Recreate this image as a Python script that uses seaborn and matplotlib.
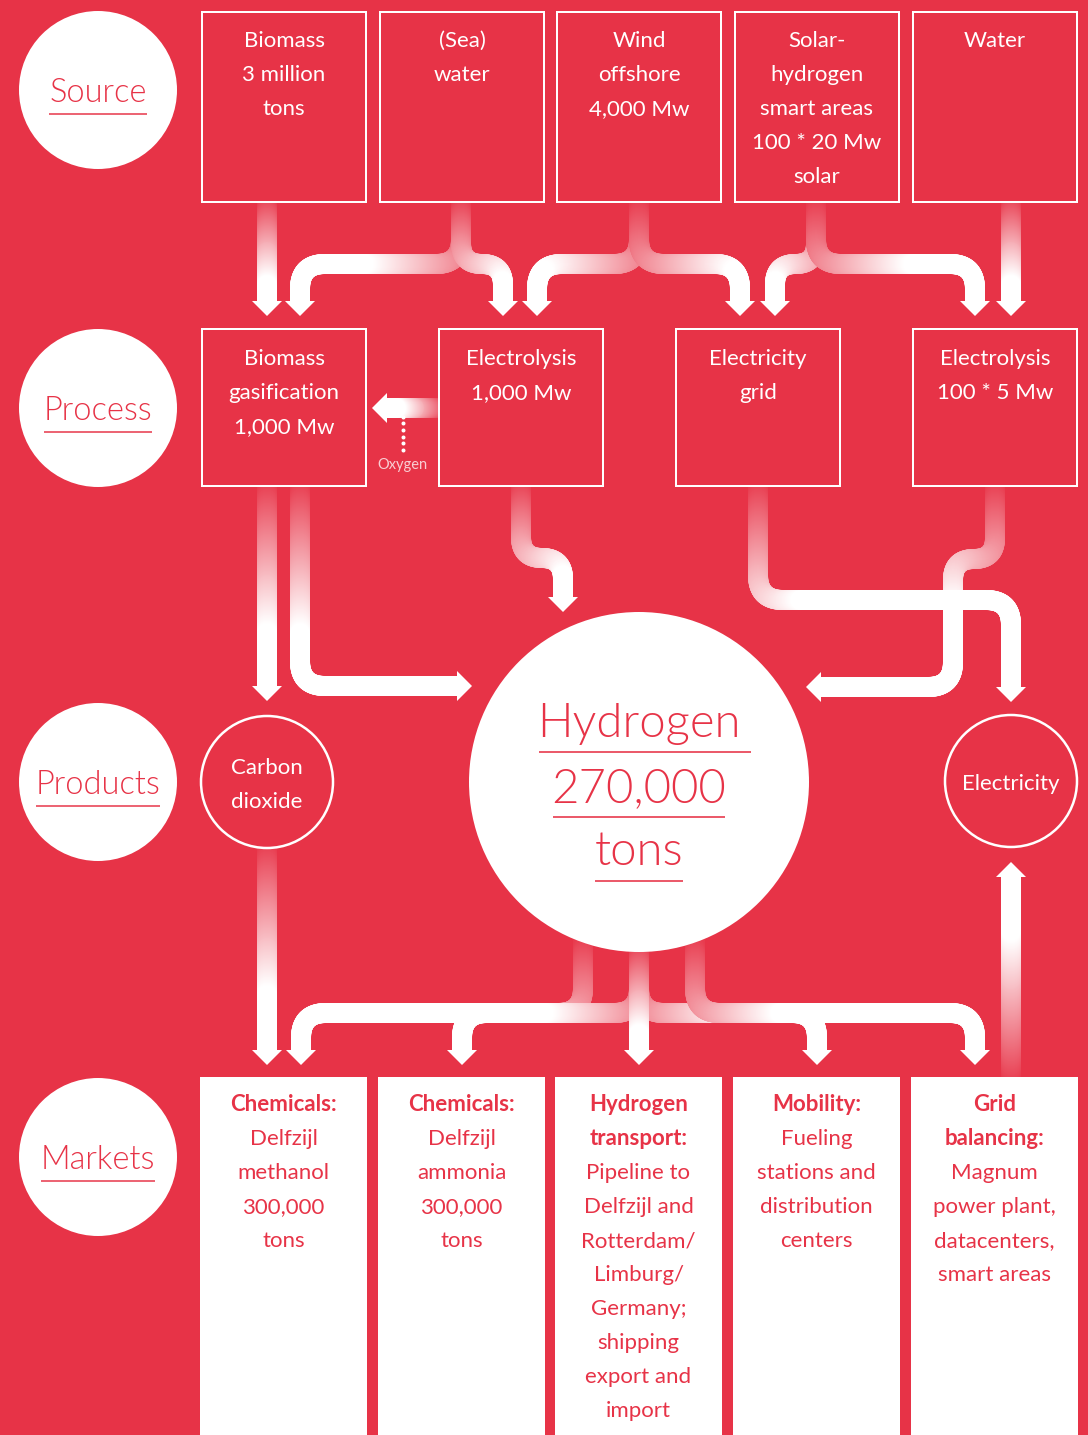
import numpy as np
import matplotlib
matplotlib.use("Agg")
import matplotlib.pyplot as plt
import seaborn as sns
from matplotlib.collections import LineCollection
from matplotlib.patches import Rectangle, Circle, Polygon
from matplotlib.colors import to_rgb

sns.set_theme(style="white")
plt.rcParams['font.family'] = ['Lato', 'DejaVu Sans']

# ---------------- data (texts) ----------------
stage_labels = ["Source", "Process", "Products", "Markets"]
source_labels = [["Biomass", "3 million", "tons"],
                 ["(Sea)", "water"],
                 ["Wind", "offshore", "4,000 Mw"],
                 ["Solar-", "hydrogen", "smart areas", "100 * 20 Mw", "solar"],
                 ["Water"]]
process_labels = [["Biomass", "gasification", "1,000 Mw"],
                  ["Electrolysis", "1,000 Mw"],
                  ["Electricity", "grid"],
                  ["Electrolysis", "100 * 5 Mw"]]
product_labels = [["Carbon", "dioxide"], ["Electricity"]]
hydrogen_lines = ["Hydrogen", "270,000", "tons"]
market_headers = [["Chemicals:"], ["Chemicals:"], ["Hydrogen", "transport:"],
                  ["Mobility:"], ["Grid", "balancing:"]]
market_bodies = [["Delfzijl", "methanol", "300,000", "tons"],
                 ["Delfzijl", "ammonia", "300,000", "tons"],
                 ["Pipeline to", "Delfzijl and", "Rotterdam/", "Limburg/", "Germany;",
                  "shipping", "export and", "import"],
                 ["Fueling", "stations and", "distribution", "centers"],
                 ["Magnum", "power plant,", "datacenters,", "smart areas"]]
oxygen_label = "Oxygen"

# ---------------- layout ----------------
RED = '#E73347'
WHITE = '#FFFFFF'
W, H = 1088, 1435
DPI = 100
PX = 72.0 / DPI  # points per pixel

stage_cx, stage_r = 98, 79
stage_cy = [90, 408, 782, 1157]
source_x = [202, 380, 557, 735, 913]
source_w, source_top, source_bot = 164, 12, 202
process_x = [202, 439, 676, 913]
process_w, process_top, process_bot = 164, 329, 486
market_x = [200, 378, 555, 733, 911]
market_w, market_top = 167, 1077
small_circles = [(267, 782, 66), (1011, 781, 66)]
h2_c = (639, 782, 170)

fig = plt.figure(figsize=(W / DPI, H / DPI), dpi=DPI)
fig.patch.set_facecolor(RED)
ax = fig.add_axes([0, 0, 1, 1])
ax.set_xlim(0, W)
ax.set_ylim(H, 0)
ax.set_facecolor(RED)
ax.axis('off')

bg = np.array(to_rgb(RED))
wh = np.array([1.0, 1.0, 1.0])


def rounded_path(pts, r):
    pts = [np.array(p, float) for p in pts]
    n = len(pts)
    out = [pts[0]]
    for i in range(1, n - 1):
        p0, p1, p2 = pts[i - 1], pts[i], pts[i + 1]
        l1 = np.linalg.norm(p1 - p0)
        l2 = np.linalg.norm(p2 - p1)
        ri = min(r, l1 * (1.0 if i - 1 == 0 else 0.5), l2 * (1.0 if i + 1 == n - 1 else 0.5))
        d1 = (p1 - p0) / l1
        d2 = (p2 - p1) / l2
        a = p1 - d1 * ri
        b = p1 + d2 * ri
        t = np.linspace(0, 1, 40)[:, None]
        out.extend(list((1 - t) ** 2 * a + 2 * (1 - t) * t * p1 + t ** 2 * b))
    out.append(pts[-1])
    arr = np.array(out)
    seg = np.sqrt(((arr[1:] - arr[:-1]) ** 2).sum(1))
    keep = np.concatenate([[True], seg > 1e-6])
    arr = arr[keep]
    seg = np.sqrt(((arr[1:] - arr[:-1]) ** 2).sum(1))
    s = np.concatenate([[0], np.cumsum(seg)])
    L = s[-1]
    ss = np.linspace(0, L, int(L / 1.0) + 2)
    x = np.interp(ss, s, arr[:, 0])
    y = np.interp(ss, s, arr[:, 1])
    return np.column_stack([x, y]), ss, L


def pipe(pts, r=25, width=20, ramp=150, head=15, z=2):
    xy, s, L = rounded_path(pts, r)
    a = np.clip(s / min(0.85 * L, ramp), 0.04, 1.0)
    cols = bg[None, :] * (1 - a[:, None]) + wh[None, :] * a[:, None]
    segs = np.stack([xy[:-1], xy[1:]], axis=1)
    lc = LineCollection(segs, colors=cols[1:], linewidths=width * PX,
                        capstyle='round', zorder=z)
    ax.add_collection(lc)
    d = xy[-1] - xy[-4]
    d = d / np.linalg.norm(d)
    perp = np.array([-d[1], d[0]])
    base = xy[-1]
    tri = [base + perp * 15, base + d * head, base - perp * 15]
    ax.add_patch(Polygon(tri, closed=True, facecolor=WHITE, edgecolor='none', zorder=z + 0.5))


def h2_edge(x):
    cx, cy, r = h2_c
    return cy + np.sqrt(r ** 2 - (x - cx) ** 2) - 3


# ---------------- pipes ----------------
# source -> process
yh = 264
pipe([(267, 202), (267, 301)])
pipe([(461, 202), (461, yh), (300, yh), (300, 301)])
pipe([(461, 202), (461, yh), (503, yh), (503, 301)])
pipe([(639, 202), (639, yh), (537, yh), (537, 301)])
pipe([(639, 202), (639, yh), (740, yh), (740, 301)])
pipe([(816, 202), (816, yh), (775, yh), (775, 301)])
pipe([(816, 202), (816, yh), (975, yh), (975, 301)])
pipe([(1011, 202), (1011, 301)])
# process -> products
pipe([(267, 484), (267, 686)])
pipe([(300, 484), (300, 686), (457, 686)])
pipe([(521, 484), (521, 558), (563, 558), (563, 597)])
pipe([(995, 484), (995, 559), (953, 559), (953, 687), (821, 687)])
pipe([(758, 484), (758, 600), (1011, 600), (1011, 687)], z=2.2)
# oxygen
pipe([(441, 408), (387, 408)], ramp=60)
# products -> markets
yb = 1013
pipe([(267, 846), (267, 1050)])
pipe([(583, h2_edge(583)), (583, yb), (301, yb), (301, 1050)])
pipe([(639, h2_edge(639)), (639, yb), (462, yb), (462, 1050)])
pipe([(639, h2_edge(639)), (639, yb), (817, yb), (817, 1050)])
pipe([(695, h2_edge(695)), (695, yb), (975, yb), (975, 1050)])
pipe([(639, h2_edge(639)), (639, 1050)], z=2.3)
pipe([(1011, 1080), (1011, 877)])

# oxygen dotted line and label
dots_y = np.arange(410, 455, 6.7)
ax.plot(np.full_like(dots_y, 403), dots_y, ls='none', marker='o', ms=2.6 * PX,
        color='white', zorder=5)
ax.text(402, 469, oxygen_label, ha='center', va='baseline', fontsize=10.5,
        color='#F9CDD2', zorder=5)

# ---------------- boxes ----------------
for x, lab in zip(source_x, source_labels):
    ax.add_patch(Rectangle((x, source_top), source_w, source_bot - source_top,
                           facecolor=RED, edgecolor=WHITE, lw=2 * PX, zorder=4))
    for i, l in enumerate(lab):
        ax.text(x + source_w / 2, 47 + 34 * i, l, ha='center', va='baseline',
                fontsize=16, color=WHITE, zorder=6)

for x, lab in zip(process_x, process_labels):
    ax.add_patch(Rectangle((x, process_top), process_w, process_bot - process_top,
                           facecolor=RED, edgecolor=WHITE, lw=2 * PX, zorder=4))
    for i, l in enumerate(lab):
        ax.text(x + process_w / 2, 365 + 34 * i, l, ha='center', va='baseline',
                fontsize=16, color=WHITE, zorder=6)

for x, hd, bd in zip(market_x, market_headers, market_bodies):
    ax.add_patch(Rectangle((x, market_top), market_w, H - market_top + 5,
                           facecolor=WHITE, edgecolor='none', zorder=4))
    k = 0
    for l in hd:
        ax.text(x + market_w / 2, 1111 + 34 * k, l, ha='center', va='baseline',
                fontsize=16, fontweight='bold', color=RED, zorder=6)
        k += 1
    for l in bd:
        ax.text(x + market_w / 2, 1111 + 34 * k, l, ha='center', va='baseline',
                fontsize=16, color=RED, zorder=6)
        k += 1

# product circles
for (cx, cy, r), lab in zip(small_circles, product_labels):
    ax.add_patch(Circle((cx, cy), r, facecolor=RED, edgecolor=WHITE, lw=2.5 * PX, zorder=4))
    n = len(lab)
    for i, l in enumerate(lab):
        ax.text(cx, cy + 9 + 34 * (i - (n - 1) / 2), l, ha='center', va='baseline',
                fontsize=16, color=WHITE, zorder=6)

# hydrogen circle
cx, cy, r = h2_c
ax.add_patch(Circle((cx, cy), r, facecolor=WHITE, edgecolor='none', zorder=4))
h2_base = [737, 802, 865]
h2_ul = [(539, 751, 752), (553, 725, 817), (595, 683, 881)]
for l, b, (x0, x1, yu) in zip(hydrogen_lines, h2_base, h2_ul):
    ax.text(cx, b, l, ha='center', va='baseline', fontsize=34, fontweight=300,
            color=RED, zorder=6)
    ax.plot([x0, x1], [yu, yu], color=RED, lw=1.6 * PX, zorder=6, solid_capstyle='butt')

# stage circles
fig.canvas.draw()
renderer = fig.canvas.get_renderer()
inv = ax.transData.inverted()
for lab, y in zip(stage_labels, stage_cy):
    ax.add_patch(Circle((stage_cx, y), stage_r, facecolor=WHITE, edgecolor='none', zorder=4))
    t = ax.text(stage_cx, y + 12, lab, ha='center', va='baseline', fontsize=23.5,
                fontweight=300, color=RED, zorder=6)
    bb = t.get_window_extent(renderer)
    (x0, _), (x1, _) = inv.transform([[bb.x0, bb.y0], [bb.x1, bb.y1]])
    ax.plot([x0, x1], [y + 24, y + 24], color=RED, lw=1.5 * PX, zorder=6,
            solid_capstyle='butt')

fig.savefig("out.png", dpi=DPI, facecolor=RED)
